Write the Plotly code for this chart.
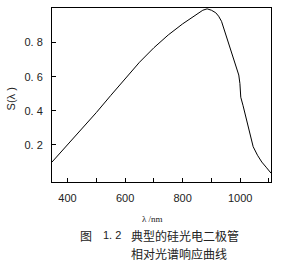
import plotly.graph_objects as go

wavelength = [346, 400, 450, 500, 550, 600, 650, 700, 750, 800, 830, 855, 870, 885,
              900, 915, 925, 935, 945, 955, 965, 975, 985, 995, 999, 1002, 1010,
              1025, 1045, 1060, 1075, 1090, 1107]
response = [0.10, 0.20, 0.295, 0.39, 0.49, 0.59, 0.685, 0.77, 0.845, 0.91, 0.945,
            0.975, 0.99, 0.998, 0.99, 0.975, 0.955, 0.925, 0.87, 0.82, 0.77, 0.72,
            0.665, 0.61, 0.56, 0.48, 0.43, 0.32, 0.19, 0.14, 0.10, 0.07, 0.035]

x_ticks = [400, 600, 800, 1000]
y_ticks = [0.2, 0.4, 0.6, 0.8]
y_tick_text = ["0. 2", "0. 4", "0. 6", "0. 8"]
caption_lines = ["典型的硅光电二极管", "相对光谱响应曲线"]

fig = go.Figure()
fig.add_trace(go.Scatter(x=wavelength, y=response, mode="lines",
                         line=dict(color="black", width=1), hoverinfo="skip"))

axis_font = dict(family="Liberation Sans, Arial, sans-serif", size=11, color="#222")
fig.update_layout(
    width=281, height=262,
    margin=dict(l=52, r=10, t=8, b=80),
    paper_bgcolor="white", plot_bgcolor="white",
    showlegend=False,
    xaxis=dict(range=[346, 1107], tickvals=x_ticks, ticks="inside", ticklen=4,
               tickcolor="black", showline=True, linecolor="black", linewidth=1,
               mirror=True, showgrid=False, zeroline=False, tickfont=axis_font,
               minor=dict(dtick=100, tick0=0, ticks="inside", ticklen=4,
                          tickcolor="black", showgrid=False),
               ticklabelstandoff=6),
    yaxis=dict(range=[-0.017, 1.003], tickvals=y_ticks, ticktext=y_tick_text,
               ticks="inside", ticklen=4, tickcolor="black", showline=True,
               linecolor="black", linewidth=1, mirror=True, showgrid=False,
               zeroline=False, tickfont=axis_font, ticklabelstandoff=6),
)

cjk = "Noto Sans CJK SC"
fig.add_annotation(text="S(λ )", xref="paper", yref="paper", x=-0.183, y=0.480,
                   textangle=-90, showarrow=False, xanchor="center", yanchor="middle",
                   font=dict(family="Liberation Sans, Arial", size=11, color="#222"))
fig.add_annotation(text="λ /nm", xref="paper", yref="paper", x=0.457, y=-0.215,
                   showarrow=False, xanchor="center", yanchor="middle",
                   font=dict(family="Liberation Serif, serif", size=9, color="#222"))
fig.add_annotation(text="图", xref="paper", yref="paper", x=(86 - 52) / 219,
                   y=(182 - 235) / 174, showarrow=False, xanchor="center",
                   yanchor="middle", borderpad=0,
                   font=dict(family=cjk, size=12, color="#222"))
fig.add_annotation(text="1. 2", xref="paper", yref="paper", x=(112 - 52) / 219,
                   y=(182 - 235) / 174, showarrow=False, xanchor="center",
                   yanchor="middle", borderpad=0,
                   font=dict(family="Liberation Sans", size=11, color="#222"))
for line_text, ypx in zip(caption_lines, [235, 253]):
    fig.add_annotation(text=line_text, xref="paper", yref="paper",
                       x=(131 - 52) / 219, y=(182 - ypx) / 174, showarrow=False,
                       xanchor="left", yanchor="middle", borderpad=0, xshift=-1,
                       font=dict(family=cjk, size=12, color="#222"))

fig.write_html("out.html")
